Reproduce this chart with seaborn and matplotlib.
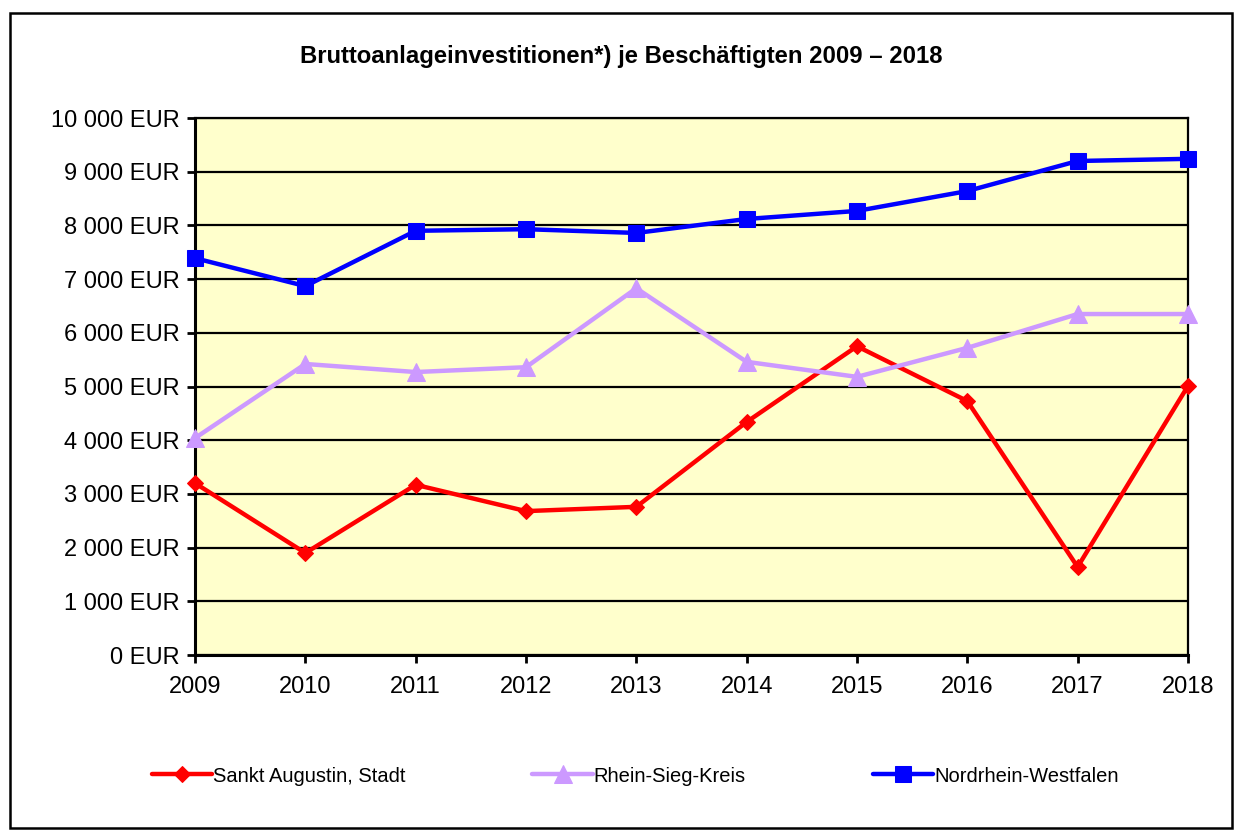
import numpy as np
import pandas as pd
import matplotlib
matplotlib.use("Agg")
import matplotlib.pyplot as plt
from matplotlib.ticker import FuncFormatter, MultipleLocator
import seaborn as sns

years = [2009, 2010, 2011, 2012, 2013, 2014, 2015, 2016, 2017, 2018]
sankt_augustin = [3200, 1900, 3170, 2680, 2760, 4340, 5750, 4730, 1640, 5010]
rhein_sieg = [4040, 5420, 5270, 5360, 6830, 5460, 5180, 5720, 6350, 6350]
nrw = [7390, 6870, 7900, 7930, 7860, 8120, 8270, 8640, 9200, 9240]

names = ["Sankt Augustin, Stadt", "Rhein-Sieg-Kreis", "Nordrhein-Westfalen"]
title = "Bruttoanlageinvestitionen*) je Beschäftigten 2009 \u2013 2018"

df = pd.DataFrame({
    "Jahr": years * 3,
    "Wert": sankt_augustin + rhein_sieg + nrw,
    "Gebiet": [names[0]] * 10 + [names[1]] * 10 + [names[2]] * 10,
})

sns.set_style("white")
plt.rcParams["font.family"] = ["Liberation Sans", "DejaVu Sans"]
plt.rcParams["text.color"] = "black"

fig = plt.figure(figsize=(12.43, 8.30), dpi=100)
ax = fig.add_axes([0.1569, 0.2108, 0.7988, 0.6470])
ax.set_facecolor("#FFFFCC")

styles = {
    names[0]: dict(color="#FF0000", marker="D", markersize=8),
    names[1]: dict(color="#CC99FF", marker="^", markersize=13),
    names[2]: dict(color="#0000FF", marker="s", markersize=12),
}
for name in names:
    st = styles[name]
    sns.lineplot(data=df[df["Gebiet"] == name], x="Jahr", y="Wert", ax=ax,
                 color=st["color"], marker=st["marker"], markersize=st["markersize"],
                 markeredgecolor=st["color"], linewidth=3.2, label=name, clip_on=False,
                 zorder=3)

ax.set_xlim(2009, 2018)
ax.set_ylim(0, 10000)
ax.yaxis.set_major_locator(MultipleLocator(1000))
ax.set_xticks(years)
ax.yaxis.set_major_formatter(FuncFormatter(lambda v, p: f"{int(v):,} EUR".replace(",", " ")))
ax.grid(axis="y", color="black", linewidth=1.6)
ax.set_axisbelow(True)
ax.set_xlabel("")
ax.set_ylabel("")
for s in ax.spines.values():
    s.set_visible(True)
    s.set_color("black")
    s.set_linewidth(1.6)
ax.spines["left"].set_linewidth(2.2)
ax.spines["bottom"].set_linewidth(2.2)
ax.tick_params(axis="both", which="major", direction="out", length=6, width=2,
               color="black", labelsize=17, labelcolor="black", left=True, bottom=True)
ax.tick_params(axis="y", pad=5)
ax.tick_params(axis="x", pad=9)

fig.text(0.5, 1 - 57 / 830, title, ha="center", va="center", fontsize=17.2,
         fontweight="bold", color="black")

ax.get_legend().remove()
handles, labels = ax.get_legend_handles_labels()
leg = fig.legend(handles, labels, loc="center", bbox_to_anchor=(0.511, 1 - 776 / 830),
                 ncol=3, frameon=False, fontsize=14.5, handlelength=3,
                 handletextpad=0.05, columnspacing=6.3)
for t in leg.get_texts():
    t.set_color("black")

border = plt.Rectangle((10 / 1243, 2 / 830), 1222 / 1243, 815 / 830,
                       transform=fig.transFigure, fill=False, edgecolor="black",
                       linewidth=1.8)
fig.patches.append(border)

fig.savefig("out.png", dpi=100)
